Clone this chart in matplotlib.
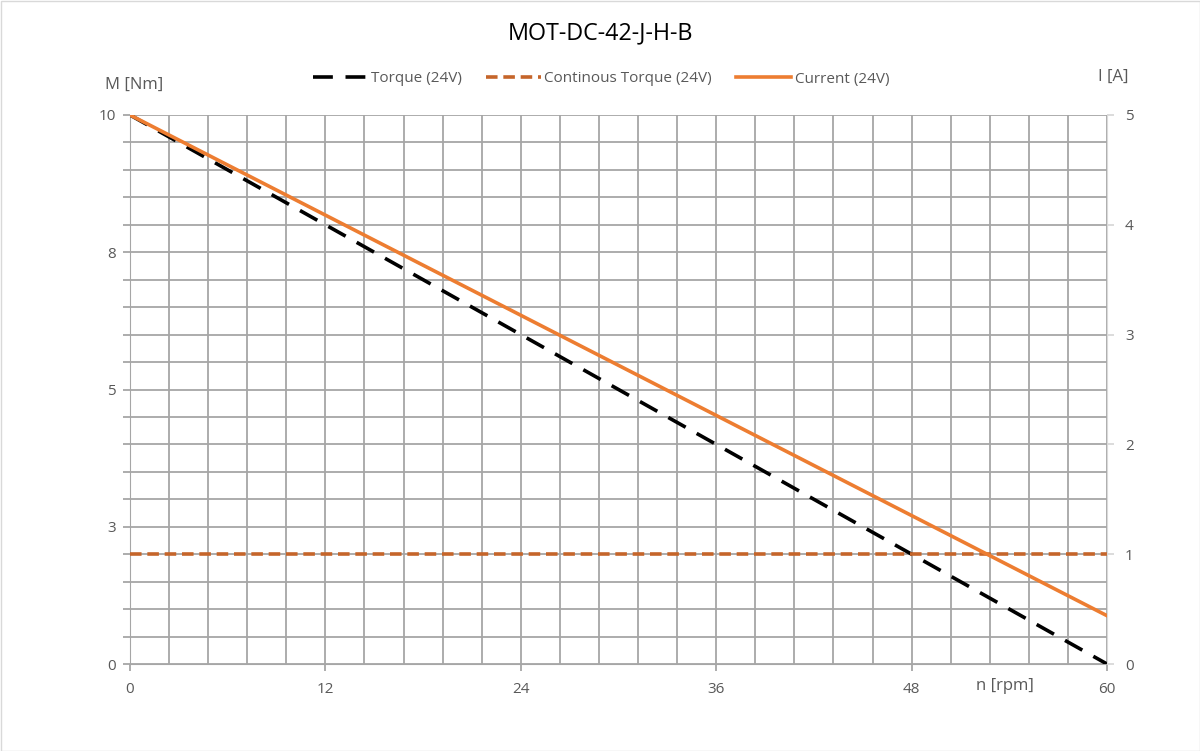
import matplotlib
matplotlib.use("Agg")
import matplotlib.pyplot as plt
from matplotlib.ticker import MultipleLocator, FixedLocator, FixedFormatter
from matplotlib.patches import Rectangle

plt.rcParams['font.family'] = ['Open Sans', 'DejaVu Sans']

title = "MOT-DC-42-J-H-B"
speed = [0, 60]
torque = [10, 0]
cont_speed = [0, 60]
cont_torque = [2, 2]
current = [5, 0.44]

left_ticks = [0, 2.5, 5, 7.5, 10]
left_labels = ["0", "3", "5", "8", "10"]
right_ticks = [0, 1, 2, 3, 4, 5]
x_ticks = [0, 12, 24, 36, 48, 60]

grid_c = "#a6a6a6"
text_c = "#595959"

fig = plt.figure(figsize=(12, 7.51), dpi=100)
ax = fig.add_axes([130/1200, 1-664/751, (1107-130)/1200, (664-115)/751])
ax2 = ax.twinx()

ax.set_xlim(0, 60)
ax.set_ylim(0, 10)
ax2.set_ylim(0, 5)

# grid
ax.xaxis.set_minor_locator(MultipleLocator(2.4))
ax.yaxis.set_minor_locator(MultipleLocator(0.5))
ax.grid(True, which='both', color=grid_c, linewidth=1.3)
ax.set_axisbelow(True)

l1, = ax.plot(speed, torque, color='black', linewidth=2.6, dashes=(5.5, 3.5), label='Torque (24V)', zorder=3)
l2, = ax.plot(cont_speed, cont_torque, color='#c5652a', linewidth=2.6, dashes=(3.2, 1.6), label='Continous Torque (24V)', zorder=3)
l3, = ax2.plot(speed, current, color='#ed7d31', linewidth=2.6, label='Current (24V)', zorder=4)

ax.xaxis.set_major_locator(FixedLocator(x_ticks))
ax.yaxis.set_major_locator(FixedLocator(left_ticks))
ax.yaxis.set_major_formatter(FixedFormatter(left_labels))
ax2.yaxis.set_major_locator(FixedLocator(right_ticks))

for a in (ax, ax2):
    for s in a.spines.values():
        s.set_visible(False)
ax.spines['bottom'].set_visible(True)
ax.spines['bottom'].set_color(grid_c)
ax.spines['left'].set_visible(True)
ax.spines['left'].set_color(grid_c)
ax2.spines['right'].set_visible(True)
ax2.spines['right'].set_color('#d9d9d9')

ax.tick_params(axis='x', which='major', colors=grid_c, labelcolor=text_c, labelsize=11, length=5, width=1.3, pad=8)
ax.tick_params(axis='x', which='minor', length=0)
ax.tick_params(axis='y', which='both', colors=grid_c, labelcolor=text_c, labelsize=11, length=5, width=1.3, pad=5)
ax2.tick_params(axis='y', colors='#d9d9d9', labelcolor=text_c, labelsize=11, length=5, width=1.3, pad=8)

fig.text(601/1200, 1-33/751, title, ha='center', va='center', fontsize=16.8, color='black')
fig.text(134/1200, 1-85/751, "M [Nm]", ha='center', va='center', fontsize=12, color=text_c)
fig.text(1113/1200, 1-77/751, "I [A]", ha='center', va='center', fontsize=12, color=text_c)
fig.text(1005/1200, 1-686/751, "n [rpm]", ha='center', va='center', fontsize=12, color=text_c)

leg = fig.legend(handles=[l1, l2, l3], loc='center', bbox_to_anchor=(601/1200, 1-79/751), ncol=3,
                 frameon=False, fontsize=11, labelcolor=text_c, handlelength=3.6,
                 columnspacing=1.6, handletextpad=0.2)

fig.patches.append(Rectangle((0.5/1200, 0.5/751), 1-1/1200, 1-1/751, transform=fig.transFigure,
                             fill=False, edgecolor='#d9d9d9', linewidth=1))

fig.savefig("out.png", dpi=100, facecolor='white')
